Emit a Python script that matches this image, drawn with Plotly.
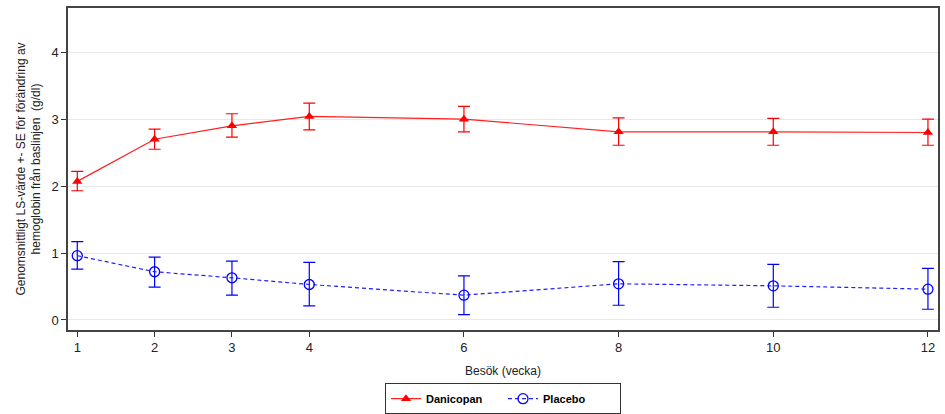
import plotly.graph_objects as go

weeks = [1, 2, 3, 4, 6, 8, 10, 12]

dani_mean = [2.07, 2.70, 2.90, 3.04, 3.00, 2.81, 2.81, 2.80]
dani_hi = [2.22, 2.85, 3.08, 3.24, 3.19, 3.02, 3.01, 3.00]
dani_lo = [1.93, 2.55, 2.73, 2.84, 2.81, 2.61, 2.61, 2.61]

plac_mean = [0.96, 0.72, 0.63, 0.53, 0.37, 0.54, 0.51, 0.46]
plac_hi = [1.17, 0.94, 0.88, 0.86, 0.66, 0.87, 0.83, 0.77]
plac_lo = [0.76, 0.49, 0.37, 0.21, 0.08, 0.22, 0.19, 0.16]

fig = go.Figure()

fig.add_trace(go.Scatter(
    x=weeks, y=dani_mean, name="<b>Danicopan</b>", mode="lines+markers",
    line=dict(color="#ff2020", width=1.2),
    marker=dict(symbol="triangle-up", size=9, color="#ff0000"),
    error_y=dict(type="data", symmetric=False,
                 array=[h - m for h, m in zip(dani_hi, dani_mean)],
                 arrayminus=[m - l for m, l in zip(dani_mean, dani_lo)],
                 color="#ff0000", thickness=1.2, width=6),
))

fig.add_trace(go.Scatter(
    x=weeks, y=plac_mean, name="<b>Placebo</b>", mode="lines+markers",
    line=dict(color="#2020ff", width=1.2, dash="4px,3px"),
    marker=dict(symbol="circle-open", size=10, color="#0000ff", line=dict(width=1.3)),
    error_y=dict(type="data", symmetric=False,
                 array=[h - m for h, m in zip(plac_hi, plac_mean)],
                 arrayminus=[m - l for m, l in zip(plac_mean, plac_lo)],
                 color="#0000ff", thickness=1.2, width=6),
))

fig.update_layout(
    width=945, height=414,
    margin=dict(l=68, r=7, t=8, b=84, autoexpand=False),
    paper_bgcolor="white", plot_bgcolor="white",
    font=dict(family="Liberation Sans, Arial, sans-serif", size=12, color="#222"),
    legend=dict(orientation="h", x=0.5, xanchor="center", y=-0.165, yanchor="top",
                bordercolor="#333", borderwidth=1, font=dict(size=11, color="black"),
                entrywidth=72, tracegroupgap=0),
)

fig.update_xaxes(
    range=[0.88, 12.13], tickvals=weeks, ticks="outside", ticklen=5,
    tickcolor="#333", showgrid=False, zeroline=False, automargin=False,
    tickfont=dict(size=13),
    showline=True, linecolor="#444", linewidth=1.5, mirror=True,
    title=dict(text="Besök (vecka)", font=dict(size=12), standoff=12),
)
fig.update_yaxes(
    range=[-0.15, 4.66], tickvals=[0, 1, 2, 3, 4], ticks="outside", ticklen=5,
    tickcolor="#333", showgrid=True, gridcolor="#e8e8e8", zeroline=False, automargin=False,
    tickfont=dict(size=13),
    showline=True, linecolor="#444", linewidth=1.5, mirror=True,
    title=dict(text="Genomsnittligt LS-värde +- SE för förändring av<br>hemoglobin från baslinjen  (g/dl)",
               font=dict(size=12), standoff=8),
)

fig.write_html("out.html", config={"displayModeBar": False},
               post_script="document.body.style.margin='0';")
